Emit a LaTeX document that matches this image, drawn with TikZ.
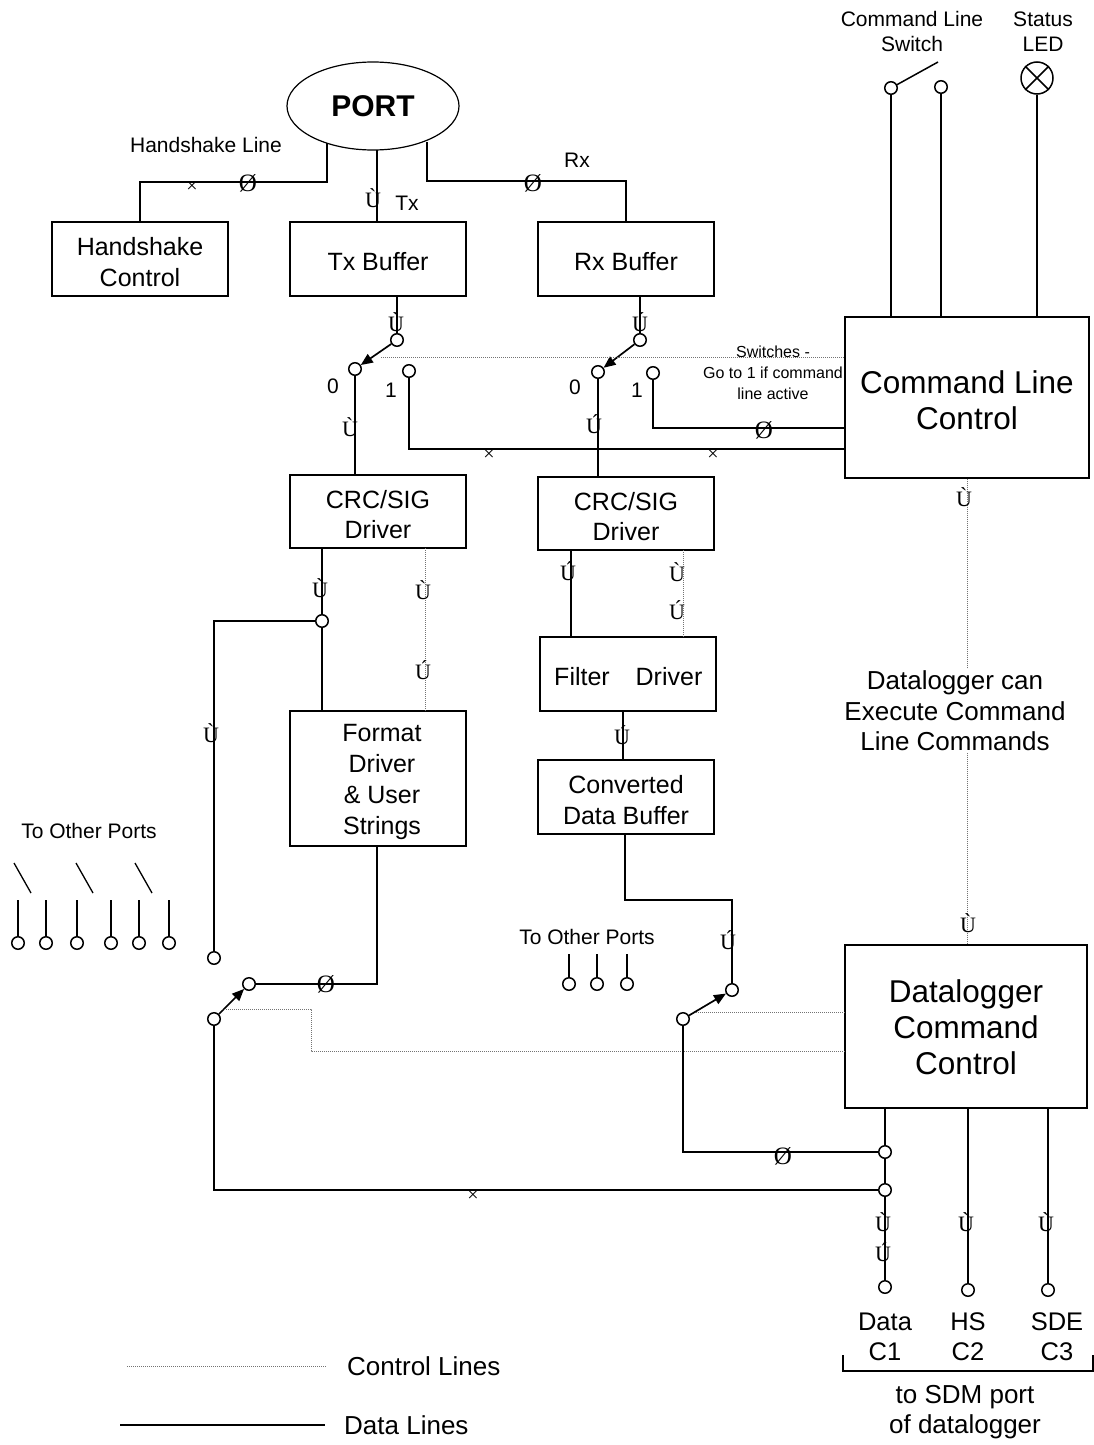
\documentclass[tikz,border=0pt]{standalone}
\usepackage{fontspec}
\setmainfont{Liberation Sans}
\newfontfamily\markfont{Liberation Serif}
\usetikzlibrary{arrows.meta,shapes.geometric}
\tikzset{
  box/.style={draw, line width=1.2pt, minimum width=176pt, minimum height=74pt, inner sep=0pt},
  btxt/.style={align=center, inner sep=0pt, font=\fontsize{25}{30.5}\selectfont},
  bigtxt/.style={align=center, inner sep=0pt, font=\fontsize{31.5}{36}\selectfont},
  data/.style={line width=2.6pt},
  thinline/.style={line width=1.4pt},
  ctrl/.style={line width=0.9pt, black!55, dash pattern=on 1pt off 1pt},
  term/.style={circle, draw, fill=white, line width=1.5pt, inner sep=0pt, minimum size=12.5pt},
  blade/.style={line width=1.7pt, -{Triangle[length=12pt,width=10pt]}},
  mk/.style={font=\markfont\fontsize{22}{22}\selectfont, inner sep=0pt},
  mo/.style={font=\markfont\fontsize{25}{25}\selectfont, inner sep=0pt},
  mx/.style={font=\markfont\fontsize{20}{20}\selectfont, inner sep=0pt},
  lbl/.style={font=\fontsize{21}{25}\selectfont, align=center, inner sep=0pt},
  sml/.style={font=\fontsize{16}{21}\selectfont, align=center, inner sep=0pt},
  mid/.style={font=\fontsize{26}{30.5}\selectfont, align=center, inner sep=0pt}
}
\begin{document}
\begin{tikzpicture}[x=1pt,y=-1pt]
\useasboundingbox[fill=white] (0,0) rectangle (1094,1445);

% ---------- PORT ----------
\node[ellipse, draw, line width=1.2pt, minimum width=172pt, minimum height=88pt, inner sep=0pt,
      font=\bfseries\fontsize{30}{30}\selectfont] (port) at (373,106) {PORT};
\node[lbl] (hsline) at (206,145) {Handshake Line};

% ---------- boxes ----------
\node[box] (hs)  at (140,259) {};
\node[btxt] (hst) at ([yshift=-3pt]hs.center) {Handshake\\Control};
\node[box] (txb) at (378,259) {};
\node[btxt] (txbt) at ([yshift=-3pt]txb.center) {Tx Buffer};
\node[box] (rxb) at (626,259) {};
\node[btxt] (rxbt) at ([yshift=-3pt]rxb.center) {Rx Buffer};
\node[box, minimum width=244pt, minimum height=161pt] (clc) at (967,397.5) {};
\node[bigtxt] (clct) at ([yshift=-3pt]clc.center) {Command Line\\Control};
\node[box, minimum height=73pt] (crc1) at (378,511.5) {};
\node[btxt] (crc1t) at ([yshift=-3pt]crc1.center) {CRC/SIG\\Driver};
\node[box, minimum height=73pt] (crc2) at (626,513.5) {};
\node[btxt] (crc2t) at ([yshift=-3pt]crc2.center) {CRC/SIG\\Driver};
\node[box, minimum height=135pt] (fmt) at (378,778.5) {};
\node[btxt, font=\fontsize{25}{30.7}\selectfont] (fmtt) at (382,782) {Format\\Driver\\\& User\\Strings};
\node[box] (flt) at (628,674) {};
\node[btxt] (fltA) at (582,677) {Filter};
\node[btxt] (fltB) at (669,677) {Driver};
\node[box] (cdb) at (626,797) {};
\node[btxt] (cdbt) at ([yshift=-3pt]cdb.center) {Converted\\Data Buffer};
\node[box, minimum width=242pt, minimum height=163pt] (dcc) at (966,1026.5) {};
\node[bigtxt] (dcct) at ([yshift=-1pt]dcc.center) {Datalogger\\Command\\Control};

% ---------- top-right switch and LED ----------
\node[lbl] (clsw) at (912,31) {Command Line\\Switch};
\node[lbl] (ledt) at (1043,32) {Status\\LED};
\node[term] (swa) at (891,88) {};
\node[term] (swb) at (941,87) {};
\coordinate (swend) at (938,62);
\draw[line width=1.5pt] (swa) -- (swend);
\node[circle, draw, line width=1.5pt, minimum size=32pt, inner sep=0pt] (led) at (1037,78) {};
\draw[line width=1.5pt] (led.north west) -- (led.south east) (led.north east) -- (led.south west);
\draw[data] (swa) -- (swa |- clc.north);
\draw[data] (swb) -- (swb |- clc.north);
\draw[data] (led) -- (led |- clc.north);

% ---------- port connections ----------
\coordinate (hsA) at (327,143);
\coordinate (hsB) at (327,182);
\draw[data] (hsA) -- (hsB) -| (hs.north);
\node[mx] (m1) at (192,187) {×};
\node[mo] (m2) at (248,183) {Ø};
\coordinate (txA) at (377,150);
\draw[data] (txA) -- (txA |- txb.north);
\node[mk] (m3) at (373,198) {Ù};
\node[lbl] (txl) at (407,203) {Tx};
\coordinate (rxA) at (427,142);
\coordinate (rxB) at (427,181);
\draw[data] (rxA) -- (rxB) -| (rxb.north);
\node[mo] (m4) at (533,183) {Ø};
\node[lbl] (rxl) at (577,160) {Rx};

% ---------- switch 1 (Tx) ----------
\node[term] (s1p) at (397,340) {};
\node[term] (s1z) at (355,369) {};
\node[term] (s1o) at (409,371) {};
\node[lbl] (s1zl) at (333,386) {0};
\node[lbl] (s1ol) at (391,390) {1};
\draw[data] (s1p |- txb.south) -- (s1p);
\node[mk] (m5) at (396,322) {Ù};
\draw[blade] (s1p) -- (s1z);
\draw[data] (s1z) -- (s1z |- crc1.north);
\node[mk] (m6) at (350,427) {Ù};
\coordinate (s1oc) at (409,449);
\draw[data] (s1o) -- (s1oc) -- (s1oc -| clc.west);
\node[mx] (m7) at (489,455) {×};
\node[mx] (m8) at (713,455) {×};

% ---------- switch 2 (Rx) ----------
\node[term] (s2p) at (640,340) {};
\node[term] (s2z) at (598,372) {};
\node[term] (s2o) at (653,373) {};
\node[lbl] (s2zl) at (575,387) {0};
\node[lbl] (s2ol) at (637,390) {1};
\draw[data] (s2p |- rxb.south) -- (s2p);
\node[mk] (m9) at (640,322) {Ú};
\draw[blade] (s2p) -- (s2z);
\draw[data] (s2z) -- (s2z |- crc2.north);
\node[mk] (m10) at (594,424) {Ú};
\coordinate (s2oc) at (653,428);
\draw[data] (s2o) -- (s2oc) -- (s2oc -| clc.west);
\node[mo] (m11) at (764,430) {Ø};

% control line to switches
\coordinate (ctlA) at (381,357);
\draw[ctrl] (ctlA) -- (ctlA -| clc.west);
\node[sml] (swnote) at (773,373) {Switches -\\Go to 1 if command\\line active};

% ---------- command line -> datalogger ----------
\draw[ctrl] (clc.south) -- (clc.south |- dcc.north);
\node[mk] (m12) at (964,497) {Ù};
\node[mid, fill=white, inner sep=2pt] (dlnote) at (955,711) {Datalogger can\\Execute Command\\Line Commands};
\node[mk] (m13) at (968,923) {Ù};

% ---------- left CRC branch ----------
\node[term] (j1) at (322,621) {};
\draw[thinline] (j1 |- crc1.south) -- (j1) -- (j1 |- fmt.north);
\node[mk] (m14) at (320,588) {Ù};
\coordinate (crc1c) at (425,548);
\draw[ctrl] (crc1c) -- (crc1c |- fmt.north);
\node[mk] (m15) at (423,590) {Ù};
\node[mk] (m16) at (423,670) {Ú};
\node[term] (b1t) at (214,958) {};
\coordinate (j1l) at (214,621);
\draw[data] (j1) -- (j1l) -- (b1t);
\node[mk] (m17) at (211,733) {Ù};

% ---------- right CRC branch ----------
\coordinate (crc2s) at (571,550);
\draw[data] (crc2s) -- (crc2s |- flt.north);
\node[mk] (m18) at (568,571) {Ú};
\coordinate (crc2c) at (683,550);
\draw[ctrl] (crc2c) -- (crc2c |- flt.north);
\node[mk] (m19) at (677,572) {Ù};
\node[mk] (m20) at (677,610) {Ú};
\coordinate (fltc) at (623,711);
\draw[data] (fltc) -- (fltc |- cdb.north);
\node[mk] (m21) at (622,735) {Ú};

% ---------- bottom left switch ----------
\node[term] (b1a) at (249,984) {};
\node[term] (b1p) at (214,1019) {};
\coordinate (fmtout) at (377,846);
\draw[data] (fmtout) |- (b1a);
\node[mo] (m22) at (326,984) {Ø};
\draw[blade] (b1p) -- (b1a);

% to other ports (left)
\node[lbl] (top1) at (89,831) {To Other Ports};
\foreach \i/\x in {1/18,2/46,3/77,4/111,5/139,6/169}{
  \node[term] (op\i) at (\x,943) {};
  \draw[line width=1.7pt] (op\i) -- (\x,900);
}
\foreach \x in {14,76,135}{
  \draw[line width=1.3pt] (\x,863) -- ++(17,30);
}

% ---------- converted buffer -> bottom right switch ----------
\node[term] (b2a) at (732,990) {};
\node[term] (b2p) at (683,1019) {};
\coordinate (cdbo) at (625,834);
\coordinate (cdbb) at (625,900);
\draw[data] (cdbo) -- (cdbb) -| (b2a);
\node[mk] (m23) at (728,940) {Ú};
\draw[blade] (b2p) -- (b2a);

% to other ports (middle)
\node[lbl] (top2) at (587,937) {To Other Ports};
\foreach \i/\x in {1/569,2/597,3/627}{
  \node[term] (mp\i) at (\x,984) {};
  \draw[line width=1.7pt] (mp\i) -- (\x,954);
}

% control lines from DCC
\coordinate (c2a) at (696,1012);
\draw[ctrl] (c2a) -- (c2a -| dcc.west);
\coordinate (c1a) at (222,1009);
\coordinate (c1b) at (311,1009);
\coordinate (c1c) at (311,1051);
\draw[ctrl] (c1a) -- (c1b) -- (c1c) -- (c1c -| dcc.west);

% ---------- DCC outputs ----------
\node[term] (dj1) at (885,1152) {};
\node[term] (dj2) at (885,1190) {};
\node[term] (o1) at (885,1287) {};
\node[term] (o2) at (968,1290) {};
\node[term] (o3) at (1048,1290) {};
\draw[data] (dj1 |- dcc.south) -- (dj1) -- (dj2) -- (o1);
\draw[data] (o2 |- dcc.south) -- (o2);
\draw[data] (o3 |- dcc.south) -- (o3);
\coordinate (b2c) at (683,1152);
\draw[data] (b2p) -- (b2c) -- (dj1);
\node[mo] (m24) at (783,1156) {Ø};
\coordinate (b1c) at (214,1190);
\draw[data] (b1p) -- (b1c) -- (dj2);
\node[mx] (m25) at (473,1196) {×};
\node[mk] (m26) at (883,1222) {Ù};
\node[mk] (m27) at (883,1252) {Ú};
\node[mk] (m28) at (966,1222) {Ù};
\node[mk] (m29) at (1046,1222) {Ù};

\node[font=\fontsize{25.5}{30}\selectfont, align=center, inner sep=0pt] (l1) at (885,1337) {Data\\C1};
\node[font=\fontsize{25.5}{30}\selectfont, align=center, inner sep=0pt] (l2) at (968,1337) {HS\\C2};
\node[font=\fontsize{25.5}{30}\selectfont, align=center, inner sep=0pt] (l3) at (1057,1337) {SDE\\C3};
\coordinate (brA) at (843,1355);
\coordinate (brB) at (1093,1355);
\draw[line width=1.7pt] (brA) -- (843,1371) -- (1093,1371) -- (brB);
\node[mid] (sdm) at (965,1412) {to SDM port\\of datalogger};

% ---------- legend ----------
\coordinate (lg1a) at (127,1366);
\coordinate (lg1b) at (327,1366);
\draw[ctrl] (lg1a) -- (lg1b);
\node[mid, anchor=west] (lgc) at (347,1366) {Control Lines};
\coordinate (lg2a) at (120,1425);
\coordinate (lg2b) at (325,1425);
\draw[data] (lg2a) -- (lg2b);
\node[mid, anchor=west] (lgd) at (344,1425) {Data Lines};
\end{tikzpicture}
\end{document}
